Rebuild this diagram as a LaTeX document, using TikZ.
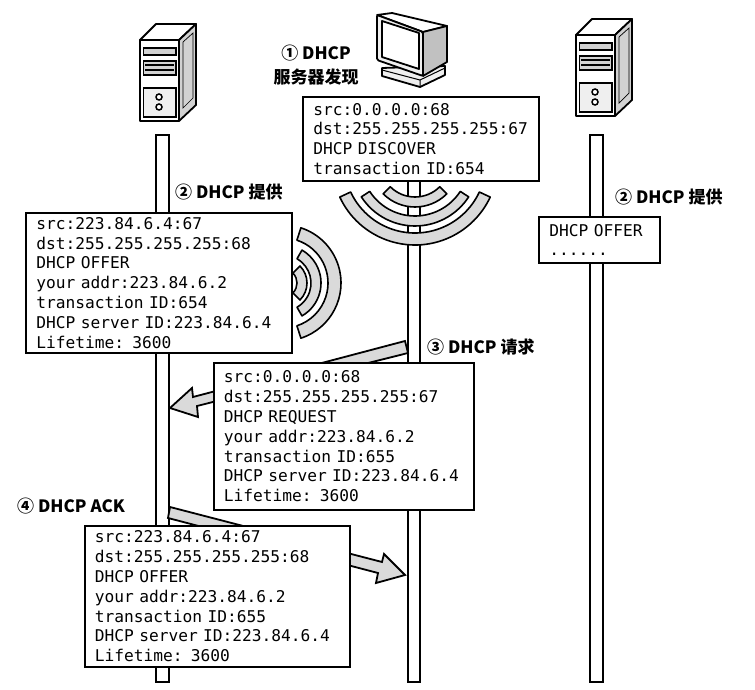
\documentclass[tikz,border=0pt]{standalone}
\usepackage{fontspec}
\setmainfont{Noto Sans CJK SC}
\setmonofont{DejaVu Sans Mono}
\definecolor{bandgray}{HTML}{DADADA}
\definecolor{panelgray}{HTML}{D2D2D2}
\definecolor{softgray}{HTML}{EFEFEF}
\tikzset{
  msgbox/.style={draw=black,fill=white,line width=1.8pt,anchor=north west,align=left,inner xsep=0pt,inner ysep=0pt,
     font=\ttfamily\fontsize{16.2}{19.8}\selectfont},
  steplabel/.style={font=\bfseries\fontsize{17}{24}\selectfont,align=center,inner sep=0pt},
  lifeline/.style={draw=black,fill=white,line width=1.8pt},
  band/.style={draw=black,fill=bandgray,line width=1.6pt,line join=round},
  fatarrow/.style={draw=black,fill=bandgray,line width=1.8pt,line join=miter},
  hw/.style={draw=black,line width=1.8pt,line join=round}
}
\newcommand\wavearc[6]{%
  \draw[band,shift={(#1,#2)}] (#3:#6) arc[start angle=#3,end angle=#4,radius=#6]
     -- (#4:#5) arc[start angle=#4,end angle=#3,radius=#5] -- cycle;}
\newcommand\towerpc[2]{%
  \begin{scope}[shift={(#1,#2)}]
    \draw[hw,fill=white] (140,-40) -- (156,-24) -- (196,-24) -- (179,-40) -- cycle;
    \draw[hw,fill=panelgray] (179,-40) -- (196,-24) -- (196,-105) -- (179,-121) -- cycle;
    \draw[black,line width=.7pt,fill=panelgray] (183,-42) -- (193,-33) -- (193,-98) -- (183,-108) -- cycle;
    \draw[hw,fill=white] (140,-40) rectangle (179,-121);
    \draw[black,line width=1.5pt,fill=panelgray] (143.5,-48) rectangle (176,-55);
    \draw[black,line width=1.5pt,fill=panelgray] (143.5,-61) rectangle (176,-75);
    \draw[black,line width=1.3pt] (145,-65) -- (174,-65) (145,-70) -- (174,-70);
    \draw[black,line width=1.5pt,fill=softgray] (143.5,-88) rectangle (176,-117);
    \draw[black,line width=1.5pt,fill=white] (159,-97) circle (3);
    \draw[black,line width=1.5pt,fill=white] (159,-107) circle (3);
  \end{scope}}
\begin{document}
\begin{tikzpicture}[x=1pt,y=1pt]
\useasboundingbox (0,0) rectangle (755,-690);
\fill[white] (0,0) rectangle (755,-690);
% lifelines
\draw[lifeline] (156,-135) rectangle (169,-682);
\draw[lifeline] (408,-135) rectangle (420,-682);
\draw[lifeline] (590,-135) rectangle (603,-682);
% servers and monitor
\towerpc{0}{0}
\towerpc{436}{5}
\draw[hw,fill=softgray] (382,-68) -- (445,-66) -- (445,-75) -- (420,-87) -- (382,-76) -- cycle;
\draw[hw,line width=1pt] (382,-70) -- (420,-80) -- (445,-68) (420,-80) -- (420,-87);
\draw[hw,fill=white] (377,-15) -- (392,-13) -- (447,-26) -- (423,-32) -- cycle;
\draw[hw,fill=panelgray!80!gray] (423,-32) -- (447,-26) -- (447,-62) -- (423,-76) -- cycle;
\draw[hw,fill=softgray,rounded corners=1.5pt] (377,-15) -- (423,-32) -- (423,-76) -- (377,-60) -- cycle;
\draw[hw,fill=white] (382,-21) -- (419,-33) -- (419,-69) -- (382,-57) -- cycle;
% waves
\wavearc{415}{-162}{205}{335}{71}{83}
\wavearc{415}{-162}{213}{327}{54}{64}
\wavearc{415}{-162}{225}{315}{35}{45}
\wavearc{283}{-283}{-72}{72}{45}{58}
\wavearc{283}{-283}{-60}{60}{28}{38}
\wavearc{283}{-283}{-45}{45}{14}{24}
% fat arrows
\draw[fatarrow] (405,-341) -- (193,-397) -- (192,-388) -- (170,-408) -- (198,-417) -- (197,-406) -- (408,-353) -- cycle;
\draw[fatarrow] (170,-507) -- (382,-562) -- (384,-554) -- (405,-575) -- (376,-583) -- (378,-573) -- (168,-518) -- cycle;
% message boxes
\node[msgbox,minimum width=236pt,minimum height=84pt,text width=215pt,inner xsep=10.5pt] (discover) at (302,-96)
  {src:0.0.0.0:68\\dst:255.255.255.255:67\\DHCP DISCOVER\\transaction ID:654};
\node[msgbox,minimum width=116pt,minimum height=46pt,text width=100pt,inner xsep=10.5pt] (offerright) at (538,-216)
  {DHCP OFFER\\......};
\node[msgbox,minimum width=265pt,minimum height=140pt,text width=245pt,inner xsep=10.5pt] (offer) at (25,-212)
  {src:223.84.6.4:67\\dst:255.255.255.255:68\\DHCP OFFER\\your addr:223.84.6.2\\transaction ID:654\\DHCP server ID:223.84.6.4\\Lifetime: 3600};
\node[msgbox,minimum width=260pt,minimum height=147pt,text width=240pt,inner xsep=8.5pt] (request) at (213,-362)
  {src:0.0.0.0:68\\dst:255.255.255.255:67\\DHCP REQUEST\\your addr:223.84.6.2\\transaction ID:655\\DHCP server ID:223.84.6.4\\Lifetime: 3600};
\node[msgbox,minimum width=264pt,minimum height=141pt,text width=245pt,inner xsep=10pt] (ack) at (84,-525)
  {src:223.84.6.4:67\\dst:255.255.255.255:68\\DHCP OFFER\\your addr:223.84.6.2\\transaction ID:655\\DHCP server ID:223.84.6.4\\Lifetime: 3600};
% step labels
\node[steplabel] (s1) at (316,-65) {① DHCP\\服务器发现};
\node[steplabel,anchor=west] (s2) at (175,-192) {② DHCP 提供};
\node[steplabel,anchor=west] (s2r) at (615,-197) {② DHCP 提供};
\node[steplabel,anchor=west] (s3) at (427,-347) {③ DHCP 请求};
\node[steplabel,anchor=west] (s4) at (17,-506) {④ DHCP ACK};
\end{tikzpicture}
\end{document}
